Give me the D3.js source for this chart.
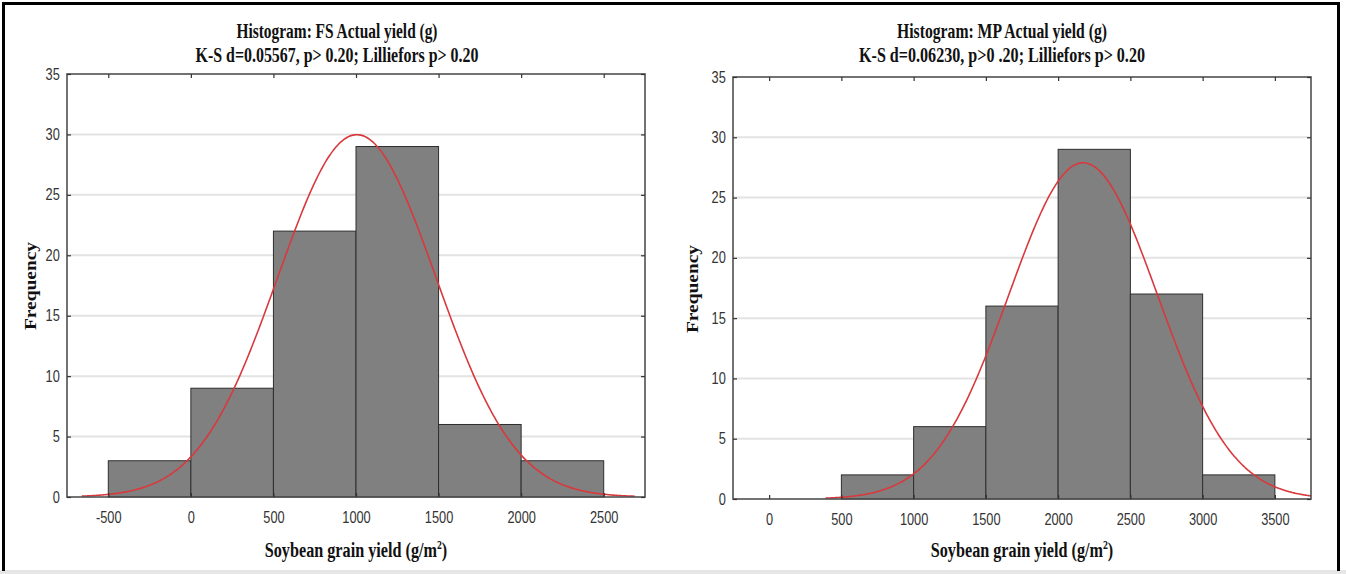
<!DOCTYPE html>
<html>
<head>
<meta charset="utf-8">
<script src="https://cdn.jsdelivr.net/npm/d3@7"></script>
<style>
  html, body { margin: 0; padding: 0; background: #ffffff; }
  svg { display: block; }
</style>
</head>
<body>
<svg id="chart" width="1346" height="574"></svg>
<script>
// ---------------- data ----------------
const fsBinEdges = [-500, 0, 500, 1000, 1500, 2000, 2500];
const fsCounts   = [3, 9, 22, 29, 6, 3];
const mpBinEdges = [500, 1000, 1500, 2000, 2500, 3000, 3500];
const mpCounts   = [2, 6, 16, 29, 17, 2];

const fsXTicks = [-500, 0, 500, 1000, 1500, 2000, 2500];
const mpXTicks = [0, 500, 1000, 1500, 2000, 2500, 3000, 3500];
const yTicks   = [0, 5, 10, 15, 20, 25, 30, 35];

// fitted normal curves: [mean, sd, n, binWidth]
const fsNormalFit = [1005, 479, 72, 500];
const mpNormalFit = [2173, 515, 72, 500];
const fsCurveRange = [-660, 2690];
const mpCurveRange = [390, 3750];

const fsTitles = ["Histogram: FS Actual yield (g)", "K-S d=0.05567, p> 0.20; Lilliefors p> 0.20"];
const mpTitles = ["Histogram: MP Actual yield (g)", "K-S d=0.06230, p>0 .20; Lilliefors p> 0.20"];
const xAxisTitle = "Soybean grain yield (g/m";
const yAxisTitle = "Frequency";

// ---------------- drawing ----------------
const svg = d3.select("#chart");

// outer frame
svg.append("rect").attr("x", 0).attr("y", 570).attr("width", 1346).attr("height", 4).attr("fill", "#e6e6e6");
const frame = d3.path();
frame.moveTo(3.5, 571); frame.lineTo(3.5, 3.5); frame.lineTo(1338.5, 3.5); frame.lineTo(1338.5, 571);
svg.append("path").attr("d", frame.toString()).attr("fill", "none").attr("stroke", "#000").attr("stroke-width", 3);

function drawPanel(cfg) {
  const g = svg.append("g");
  const x = d3.scaleLinear().domain(cfg.xDomain).range([cfg.x0, cfg.x1]);
  const y = d3.scaleLinear().domain([0, 35]).range([cfg.y1, cfg.y0]);

  // gridlines
  g.append("g").selectAll("line")
    .data(yTicks.filter(d => d > 0 && d < 35))
    .join("line")
    .attr("x1", cfg.x0).attr("x2", cfg.x1)
    .attr("y1", d => y(d)).attr("y2", d => y(d))
    .attr("stroke", "#e3e3e3").attr("stroke-width", 2);

  // bars
  g.append("g").selectAll("rect")
    .data(cfg.counts.map((c, i) => ({ c, a: cfg.edges[i], b: cfg.edges[i + 1] })))
    .join("rect")
    .attr("x", d => x(d.a))
    .attr("width", d => x(d.b) - x(d.a))
    .attr("y", d => y(d.c))
    .attr("height", d => y(0) - y(d.c))
    .attr("fill", "#808080")
    .attr("stroke", "#2e2e2e")
    .attr("stroke-width", 1);

  // normal curve
  const [mu, sd, n, bw] = cfg.fit;
  const peak = n * bw / (sd * Math.sqrt(2 * Math.PI));
  const pts = d3.range(cfg.curveRange[0], cfg.curveRange[1] + 1, 10)
    .map(v => [v, peak * Math.exp(-((v - mu) ** 2) / (2 * sd * sd))]);
  g.append("path")
    .datum(pts)
    .attr("d", d3.line().x(d => x(d[0])).y(d => y(d[1])).curve(d3.curveBasis))
    .attr("fill", "none")
    .attr("stroke", "#d8393d")
    .attr("stroke-width", 1.6);

  // plot frame
  g.append("rect")
    .attr("x", cfg.x0).attr("y", cfg.y0)
    .attr("width", cfg.x1 - cfg.x0).attr("height", cfg.y1 - cfg.y0)
    .attr("fill", "none").attr("stroke", "#505050").attr("stroke-width", 1.6);

  const labelStyle = sel => sel.selectAll("text")
    .attr("font-family", "'Liberation Sans', Arial, sans-serif")
    .attr("font-size", 16)
    .attr("fill", "#333")
    .attr("transform", "scale(0.8,1)");

  // bottom axis
  const bx = g.append("g").attr("transform", `translate(0,${cfg.y1})`)
    .call(d3.axisBottom(x).tickValues(cfg.xTicks).tickSize(-4).tickPadding(15).tickFormat(d => String(d)));
  bx.select(".domain").remove();
  bx.selectAll("line").attr("stroke", "#333").attr("stroke-width", 1.2);
  labelStyle(bx);

  // top axis (ticks only)
  const tx = g.append("g").attr("transform", `translate(0,${cfg.y0})`)
    .call(d3.axisTop(x).tickValues(cfg.xTicks).tickSize(-4).tickFormat(""));
  tx.select(".domain").remove();
  tx.selectAll("line").attr("stroke", "#333").attr("stroke-width", 1.2);

  // left axis
  const ly = g.append("g").attr("transform", `translate(${cfg.x0},0)`)
    .call(d3.axisLeft(y).tickValues(yTicks).tickSize(-4).tickPadding(9).tickFormat(d => String(d)));
  ly.select(".domain").remove();
  ly.selectAll("line").attr("stroke", "#333").attr("stroke-width", 1.2);
  labelStyle(ly);

  // right axis (ticks only)
  const ry = g.append("g").attr("transform", `translate(${cfg.x1},0)`)
    .call(d3.axisRight(y).tickValues(yTicks).tickSize(-4).tickFormat(""));
  ry.select(".domain").remove();
  ry.selectAll("line").attr("stroke", "#333").attr("stroke-width", 1.2);

  // titles
  cfg.titles.forEach((t, i) => {
    g.append("text")
      .attr("x", cfg.titleX).attr("y", cfg.titleY[i])
      .attr("text-anchor", "middle")
      .attr("font-family", "'Liberation Serif', 'Times New Roman', serif")
      .attr("font-weight", "bold")
      .attr("font-size", 20)
      .attr("fill", "#111")
      .attr("textLength", cfg.titleLens[i])
      .attr("lengthAdjust", "spacingAndGlyphs")
      .text(t);
  });

  // x axis title
  const xt = g.append("text")
    .attr("transform", `translate(${(cfg.x0 + cfg.x1) / 2},557) scale(0.81,1)`)
    .attr("text-anchor", "middle")
    .attr("font-family", "'Liberation Serif', 'Times New Roman', serif")
    .attr("font-weight", "bold")
    .attr("font-size", 20)
    .attr("fill", "#111");
  xt.append("tspan").text(xAxisTitle);
  xt.append("tspan").attr("font-size", 12).attr("dy", -8).text("2");
  xt.append("tspan").attr("dy", 8).text(")");

  // y axis title
  g.append("text")
    .attr("transform", `translate(${cfg.freqX},${cfg.freqY}) rotate(-90) scale(1,0.85)`)
    .attr("text-anchor", "middle")
    .attr("dominant-baseline", "central")
    .attr("font-family", "'Liberation Serif', 'Times New Roman', serif")
    .attr("font-weight", "bold")
    .attr("font-size", 19)
    .attr("fill", "#111")
    .attr("textLength", 88)
    .attr("lengthAdjust", "spacingAndGlyphs")
    .text(yAxisTitle);
}

drawPanel({
  x0: 67, x1: 645, y0: 74, y1: 497,
  xDomain: [-750, 2750],
  edges: fsBinEdges, counts: fsCounts, xTicks: fsXTicks,
  fit: fsNormalFit, curveRange: fsCurveRange,
  titles: fsTitles, titleX: 337, titleY: [38, 62], titleLens: [201, 283],
  freqX: 31, freqY: 286
});

drawPanel({
  x0: 733, x1: 1311, y0: 77, y1: 499,
  xDomain: [-250, 3750],
  edges: mpBinEdges, counts: mpCounts, xTicks: mpXTicks,
  fit: mpNormalFit, curveRange: mpCurveRange,
  titles: mpTitles, titleX: 1002, titleY: [38, 62], titleLens: [210, 286],
  freqX: 693, freqY: 289
});
</script>
</body>
</html>
